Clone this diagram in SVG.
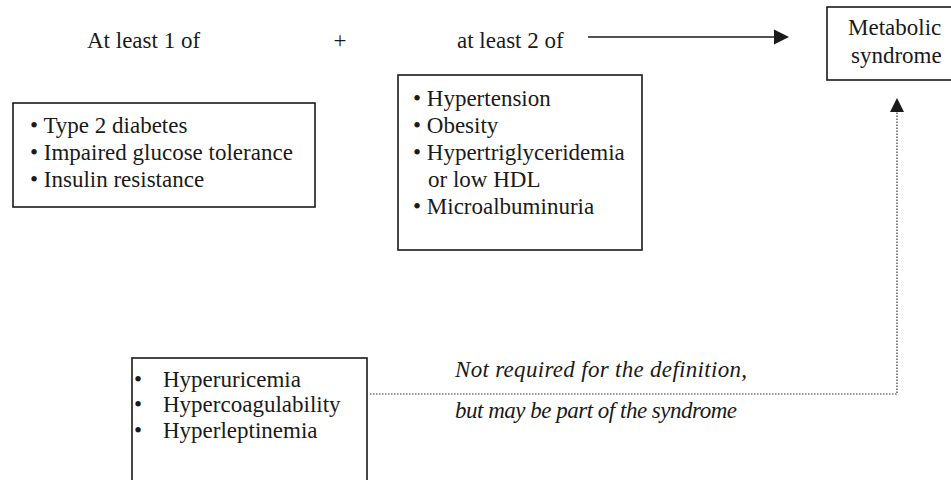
<svg xmlns="http://www.w3.org/2000/svg" width="951" height="480" viewBox="0 0 951 480">
  <style>
    text { font-family: 'Liberation Serif', 'Times New Roman', Times, serif; font-size: 23px; fill: #1a1a1a; }
    .it { font-style: italic; }
    .box { fill: #ffffff; stroke: #1a1a1a; stroke-width: 1.6; }
    .solid { stroke: #1a1a1a; stroke-width: 1.5; fill: none; }
    .dotted { stroke: #333333; stroke-width: 1.2; fill: none; stroke-dasharray: 1.5 1.5; }
    .head { fill: #1a1a1a; }
  </style>
  <rect width="951" height="480" fill="#ffffff"/>

  <!-- headings above the criteria boxes -->
  <g id="heading-one">
    <text x="87" y="48">At least 1 of</text>
  </g>
  <g id="plus">
    <text x="340" y="48" text-anchor="middle">+</text>
  </g>
  <g id="heading-two">
    <text x="457" y="48">at least 2 of</text>
  </g>

  <!-- connectors: solid arrow to the outcome, dotted link from optional features -->
  <g id="connectors">
    <line class="solid" x1="588" y1="37" x2="775" y2="37"/>
    <path class="head" d="M774,29.5 L789,37 L774,44.5 Z"/>
    <polyline class="dotted" points="370,394 897,394 897,111"/>
    <path class="head" d="M890,112 L897,98 L904,112 Z"/>
  </g>

  <!-- required core criteria -->
  <g id="core-criteria">
    <rect class="box" x="13" y="103" width="302" height="104"/>
    <text x="30" y="133">• Type 2 diabetes</text>
    <text x="30" y="160">• Impaired glucose tolerance</text>
    <text x="30" y="187">• Insulin resistance</text>
  </g>

  <!-- additional criteria -->
  <g id="extra-criteria">
    <rect class="box" x="398" y="75" width="244" height="175"/>
    <text x="413" y="106">• Hypertension</text>
    <text x="413" y="133">• Obesity</text>
    <text x="413" y="160">• Hypertriglyceridemia</text>
    <text x="428" y="187">or low HDL</text>
    <text x="413" y="214">• Microalbuminuria</text>
  </g>

  <!-- outcome -->
  <g id="metabolic-syndrome">
    <rect class="box" x="827" y="7" width="140" height="73"/>
    <text x="848" y="35">Metabolic</text>
    <text x="851" y="63">syndrome</text>
  </g>

  <!-- optional features -->
  <g id="optional-features">
    <rect class="box" x="132" y="358" width="235" height="140"/>
    <text x="134" y="387">•</text>
    <text x="163" y="387">Hyperuricemia</text>
    <text x="134" y="412">•</text>
    <text x="163" y="412">Hypercoagulability</text>
    <text x="134" y="438">•</text>
    <text x="163" y="438">Hyperleptinemia</text>
  </g>

  <!-- note on the dotted link -->
  <g id="note">
    <text class="it" x="455" y="377" textLength="292" lengthAdjust="spacing">Not required for the definition,</text>
    <text class="it" x="455" y="418" textLength="282" lengthAdjust="spacing">but may be part of the syndrome</text>
  </g>
</svg>
